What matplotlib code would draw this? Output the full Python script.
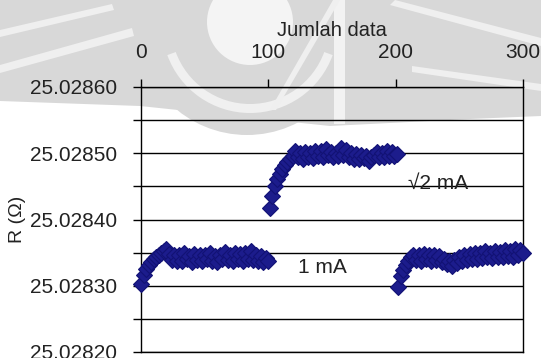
import numpy as np
import matplotlib
matplotlib.use("Agg")
import matplotlib.pyplot as plt
from matplotlib.patches import Circle, Wedge, Polygon, Rectangle

plt.rcParams['font.family'] = ['Liberation Sans', 'DejaVu Sans']

# resistance readings, stored as micro-ohm above 25.0282 ohm
R0 = 25.0282
x_1mA_a = np.arange(0, 101, 2)
r_1mA_a = [103, 116, 125, 131, 136, 140, 143, 147, 150, 153, 156, 148, 139,
           147, 137, 146, 138, 149, 140, 145, 136, 148, 139, 147, 137, 146,
           140, 150, 138, 145, 136, 147, 141, 151, 139, 146, 137, 150, 140,
           148, 138, 149, 141, 152, 139, 146, 137, 145, 136, 142, 138]

x_sqrt2mA = np.arange(101, 202, 2)
r_sqrt2mA = [217, 236, 250, 261, 268, 276, 282, 287, 292, 296, 303, 295, 300,
             292, 302, 294, 301, 293, 304, 296, 303, 295, 307, 297, 302, 294,
             301, 296, 308, 298, 305, 294, 300, 292, 299, 291, 298, 293, 296,
             288, 294, 297, 302, 295, 301, 294, 303, 296, 302, 296, 299]

x_1mA_b = np.arange(202, 301, 2)
r_1mA_b = [98, 114, 124, 132, 138, 143, 147, 139, 146, 137, 148, 140, 146,
           137, 147, 139, 145, 136, 141, 133, 138, 130, 139, 134, 144, 137,
           147, 139, 148, 141, 150, 140, 149, 142, 152, 143, 150, 142, 153,
           144, 151, 143, 154, 145, 152, 144, 155, 146, 154, 150]

W, H = 541, 358
fig = plt.figure(figsize=(W / 100, H / 100), dpi=100)
fig.patch.set_facecolor('white')

# faint logo in the page background, drawn in pixel units
bg = fig.add_axes([0, 0, 1, 1], zorder=0)
bg.set_xlim(0, W)
bg.set_ylim(H, 0)
bg.axis('off')
grey = '#d8d8d8'
bg.add_patch(Polygon([(0, 0), (W, 0), (W, 116), (470, 119), (330, 126),
                      (140, 106), (0, 101)], closed=True, fc=grey, ec='none'))
bg.add_patch(Circle((247, 25), 110, fc=grey, ec='none'))
bg.add_patch(Circle((250, 22), 43, fc='#f4f4f4', ec='none'))
bg.add_patch(Wedge((250, 25), 88, 20, 160, width=9, fc='#f0f0f0', ec='none'))
bg.add_patch(Rectangle((334, 0), 11, 124, fc='#f2f2f2', ec='none'))
for pts in [[(0, 30), (112, 4), (114, 10), (0, 37)],
            [(0, 65), (132, 28), (134, 36), (0, 73)],
            [(270, 110), (333, 0), (340, 0), (276, 110)],
            [(395, 0), (W, 38), (W, 46), (390, 5)],
            [(412, 66), (W, 84), (W, 91), (412, 72)]]:
    bg.add_patch(Polygon(pts, closed=True, fc='#efefef', ec='none'))

ax = fig.add_axes([141 / W, 1 - 352 / H, (523 - 141) / W, (352 - 87) / H],
                  zorder=1)
ax.patch.set_alpha(0)

mk = dict(ls='none', marker='D', ms=8.5, color='#1c1c8c', mec='#121275',
          mew=0.8, clip_on=False, zorder=3)
for xs, rs in [(x_1mA_a, r_1mA_a), (x_sqrt2mA, r_sqrt2mA), (x_1mA_b, r_1mA_b)]:
    ax.plot(xs, R0 + np.array(rs) * 1e-6, **mk)

ax.set_xlim(0, 300)
ax.set_ylim(25.0282, 25.0286)
ax.xaxis.tick_top()
ax.xaxis.set_label_position('top')
ax.set_xticks([0, 100, 200, 300])

yt = np.linspace(25.0282, 25.0286, 9)
ax.set_yticks(yt)
ax.set_yticklabels(['%.5f' % v if i % 2 == 0 else '' for i, v in enumerate(yt)])
ax.yaxis.grid(True, color='black', lw=1)
ax.set_axisbelow(True)

ax.tick_params(axis='both', direction='out', length=6, width=1, color='black',
               labelsize=15, labelcolor='#222222')
ax.tick_params(axis='y', pad=11)
ax.tick_params(axis='x', pad=12)
for s in ax.spines.values():
    s.set_color('black')
    s.set_linewidth(1)

ax.set_xlabel('Jumlah data', fontsize=14.5, color='#222222', labelpad=5)
ax.set_ylabel('R (Ω)', fontsize=14, color='#222222', labelpad=3)

ax.text(123, 25.028327, '1 mA', fontsize=15, color='#222222', va='center')
ax.text(210, 25.028454, '√2 mA', fontsize=15, color='#222222', va='center')

fig.savefig('out.png', dpi=100)
